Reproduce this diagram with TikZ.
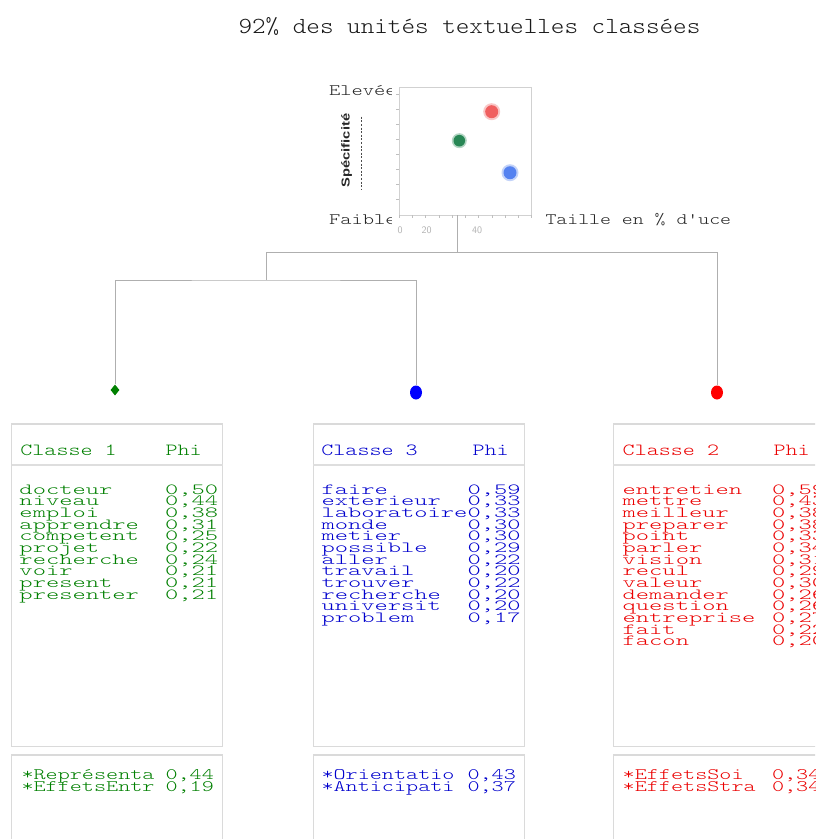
\documentclass[tikz,border=0pt]{standalone}
\usepackage{fontspec}
\usepackage{graphicx}
\usetikzlibrary{shapes.geometric}
\newfontfamily\sfbold{Liberation Sans}
\newfontfamily\lmlight{lmmonolt10-regular.otf}
\definecolor{cgreen}{RGB}{0,128,0}
\definecolor{cblue}{RGB}{0,0,205}
\definecolor{cred}{RGB}{235,0,0}
\definecolor{boxgray}{RGB}{218,218,218}
\definecolor{sepgray}{RGB}{222,222,222}
\definecolor{linegray}{RGB}{175,175,175}
\definecolor{pred}{RGB}{240,95,95}
\definecolor{pgreen}{RGB}{40,135,85}
\definecolor{pblue}{RGB}{85,130,240}
\newcommand\sx[2]{\scalebox{#1}[1]{#2}}
\begin{document}
\begin{tikzpicture}[x=1pt,y=-1pt,
  tt/.style={inner sep=0pt, outer sep=0pt, anchor=base west},
  ttitle/.style={tt, font=\fontsize{23}{23}\selectfont\lmlight, text=black!90},
  tlist/.style={tt, font=\fontsize{15.5}{15.5}\selectfont\lmlight},
  thead/.style={tt, font=\fontsize{17}{17}\selectfont\lmlight},
  tbot/.style={tt, font=\fontsize{16}{16}\selectfont\lmlight},
  tax/.style={tt, font=\fontsize{16}{16}\selectfont\lmlight, text=black!85},
  panel/.style={draw=boxgray, line width=1.3pt, inner sep=0pt, outer sep=0pt, anchor=north west, minimum width=211pt},
  sepline/.style={draw=sepgray, line width=1.6pt},
  dendro/.style={draw=linegray, line width=1pt},
  tick/.style={draw=black!25, line width=0.6pt},
  axlab/.style={font=\sffamily\fontsize{10}{10}\selectfont, text=black!30, inner sep=0pt}
]
\path[use as bounding box, fill=white] (0,0) rectangle (815,839);
\clip (0,0) rectangle (815,839);

% title
\node[ttitle] (title) at (238.5,33) {\sx{1.125}{92\% des unités textuelles classées}};

% axis texts of the small plot
\node[tax] (elev) at (329,95) {\sx{1.34}{Elevée}};
\node[tax] (faib) at (329,224) {\sx{1.34}{Faible}};
\node[tax] (taille) at (545.5,224) {\sx{1.3}{Taille en \% d\textquotesingle uce}};

% plot area
\fill[white] (392,80) rectangle (536,226);
\node[draw=black!18, line width=1pt, inner sep=0pt, outer sep=0pt, anchor=north west,
      minimum width=132.4pt, minimum height=128pt] (plot) at (399.3,87) {};
\foreach \k in {0,...,7} \draw[tick] (396,{94+15.1*\k}) -- (399.3,{94+15.1*\k});
\foreach \k in {0,...,10} \draw[tick] ({399.3+13.24*\k},215) -- ({399.3+13.24*\k},218);
\node[axlab] (l0) at (400,230) {0};
\node[axlab] (l20) at (426.7,230) {20};
\node[axlab] (l40) at (477,230) {40};

% class points in the plot
\fill[pred, opacity=0.35] (491.7,111.7) circle (8.5);
\fill[pred] (491.7,111.7) circle (6.5);
\fill[pgreen, opacity=0.35] (459.3,140.7) circle (7.5);
\fill[pgreen] (459.3,140.7) circle (5.8);
\fill[pblue, opacity=0.35] (510,172.7) circle (8.5);
\fill[pblue] (510,172.7) circle (6.5);

% specificity axis label
\node[font=\sfbold\bfseries\fontsize{11.5}{11.5}\selectfont, text=black!85, rotate=90, inner sep=0pt] (spec) at (346.7,150.5) {\sx{1.28}{Spécificité}};
\draw[black!70, line width=0.6pt, dash pattern=on 2pt off 1.6pt] (361.7,116.7) -- (361.7,190);

% dendrogram
\coordinate (pb) at (457.3,215);
\coordinate (j1) at (457.3,252.5);
\coordinate (j2) at (266,252.5);
\coordinate (j2b) at (266,280);
\node[diamond, fill=cgreen, inner sep=0pt, minimum width=9pt, minimum height=11pt] (d1) at (115,390) {};
\node[ellipse, fill=blue, inner sep=0pt, minimum width=12pt, minimum height=14pt] (d3) at (416,392.5) {};
\node[ellipse, fill=red, inner sep=0pt, minimum width=12pt, minimum height=14pt] (d2) at (717,392.5) {};
\draw[dendro] (pb) -- (j1);
\draw[dendro] (j2) -| (d2);
\draw[dendro] (j2) -- (j2b);
\draw[dendro] (d1) |- (j2b) -| (d3);

% panels
\node[panel, minimum height=322.7pt] (box1) at (11.7,424) {};
\node[panel, minimum height=95pt] (box1b) at (11.7,755) {};
\node[panel, minimum height=322.7pt] (box3) at (313.3,424) {};
\node[panel, minimum height=95pt] (box3b) at (313.3,755) {};
\node[panel, minimum height=322.7pt] (box2) at (613.3,424) {};
\node[panel, minimum height=95pt] (box2b) at (613.3,755) {};
\draw[sepline] (11.7,465) -- (222.7,465);
\draw[sepline] (313.3,465) -- (524.3,465);
\draw[sepline] (613.3,465) -- (824.3,465);

% headers
\node[thead, text=cgreen] (h1) at (20.4,455.7) {\sx{1.35}{Classe 1}};
\node[thead, text=cgreen] (p1) at (165.5,455.7) {\sx{1.35}{Phi}};
\node[thead, text=cblue] (h3) at (321.4,455.7) {\sx{1.35}{Classe 3}};
\node[thead, text=cblue] (p3) at (472.5,455.7) {\sx{1.35}{Phi}};
\node[thead, text=cred] (h2) at (622.7,455.7) {\sx{1.35}{Classe 2}};
\node[thead, text=cred] (p2) at (773.5,455.7) {\sx{1.35}{Phi}};

% class 1
\foreach \w/\v [count=\i from 0] in {docteur/{0,50}, niveau/{0,44}, emploi/{0,38}, apprendre/{0,31}, competent/{0,25}, projet/{0,22}, recherche/{0,24}, voir/{0,21}, present/{0,21}, presenter/{0,21}} {
  \node[tlist, text=cgreen] (c1w\i) at (19.5,{494+11.67*\i}) {\sx{1.63}{\w}};
  \node[tlist, text=cgreen] (c1v\i) at (165,{494+11.67*\i}) {\sx{1.63}{\v}};
}
% class 3
\foreach \w/\v [count=\i from 0] in {faire/{0,59}, exterieur/{0,33}, laboratoire/{0,33}, monde/{0,30}, metier/{0,30}, possible/{0,29}, aller/{0,22}, travail/{0,20}, trouver/{0,22}, recherche/{0,20}, universit/{0,20}, problem/{0,17}} {
  \node[tlist, text=cblue] (c3w\i) at (321.5,{494+11.67*\i}) {\sx{1.63}{\w}};
  \node[tlist, text=cblue] (c3v\i) at (467.5,{494+11.67*\i}) {\sx{1.63}{\v}};
}
% class 2
\foreach \w/\v [count=\i from 0] in {entretien/{0,59}, mettre/{0,43}, meilleur/{0,38}, preparer/{0,38}, point/{0,33}, parler/{0,34}, vision/{0,31}, recul/{0,29}, valeur/{0,30}, demander/{0,26}, question/{0,26}, entreprise/{0,27}, fait/{0,22}, facon/{0,20}} {
  \node[tlist, text=cred] (c2w\i) at (622.7,{494+11.67*\i}) {\sx{1.63}{\w}};
  \node[tlist, text=cred] (c2v\i) at (772,{494+11.67*\i}) {\sx{1.63}{\v}};
}

% variables
\node[tbot, text=cgreen] (b1a) at (21.5,779.3) {\sx{1.44}{*Représenta}};
\node[tbot, text=cgreen] (b1av) at (165.5,779.3) {\sx{1.44}{0,44}};
\node[tbot, text=cgreen] (b1b) at (21.5,791) {\sx{1.44}{*EffetsEntr}};
\node[tbot, text=cgreen] (b1bv) at (165.5,791) {\sx{1.44}{0,19}};
\node[tbot, text=cblue] (b3a) at (321.5,779.3) {\sx{1.44}{*Orientatio}};
\node[tbot, text=cblue] (b3av) at (467.5,779.3) {\sx{1.44}{0,43}};
\node[tbot, text=cblue] (b3b) at (321.5,791) {\sx{1.44}{*Anticipati}};
\node[tbot, text=cblue] (b3bv) at (467.5,791) {\sx{1.44}{0,37}};
\node[tbot, text=cred] (b2a) at (622.7,779.3) {\sx{1.44}{*EffetsSoi}};
\node[tbot, text=cred] (b2av) at (772,779.3) {\sx{1.44}{0,34}};
\node[tbot, text=cred] (b2b) at (622.7,791) {\sx{1.44}{*EffetsStra}};
\node[tbot, text=cred] (b2bv) at (772,791) {\sx{1.44}{0,34}};
\end{tikzpicture}
\end{document}
